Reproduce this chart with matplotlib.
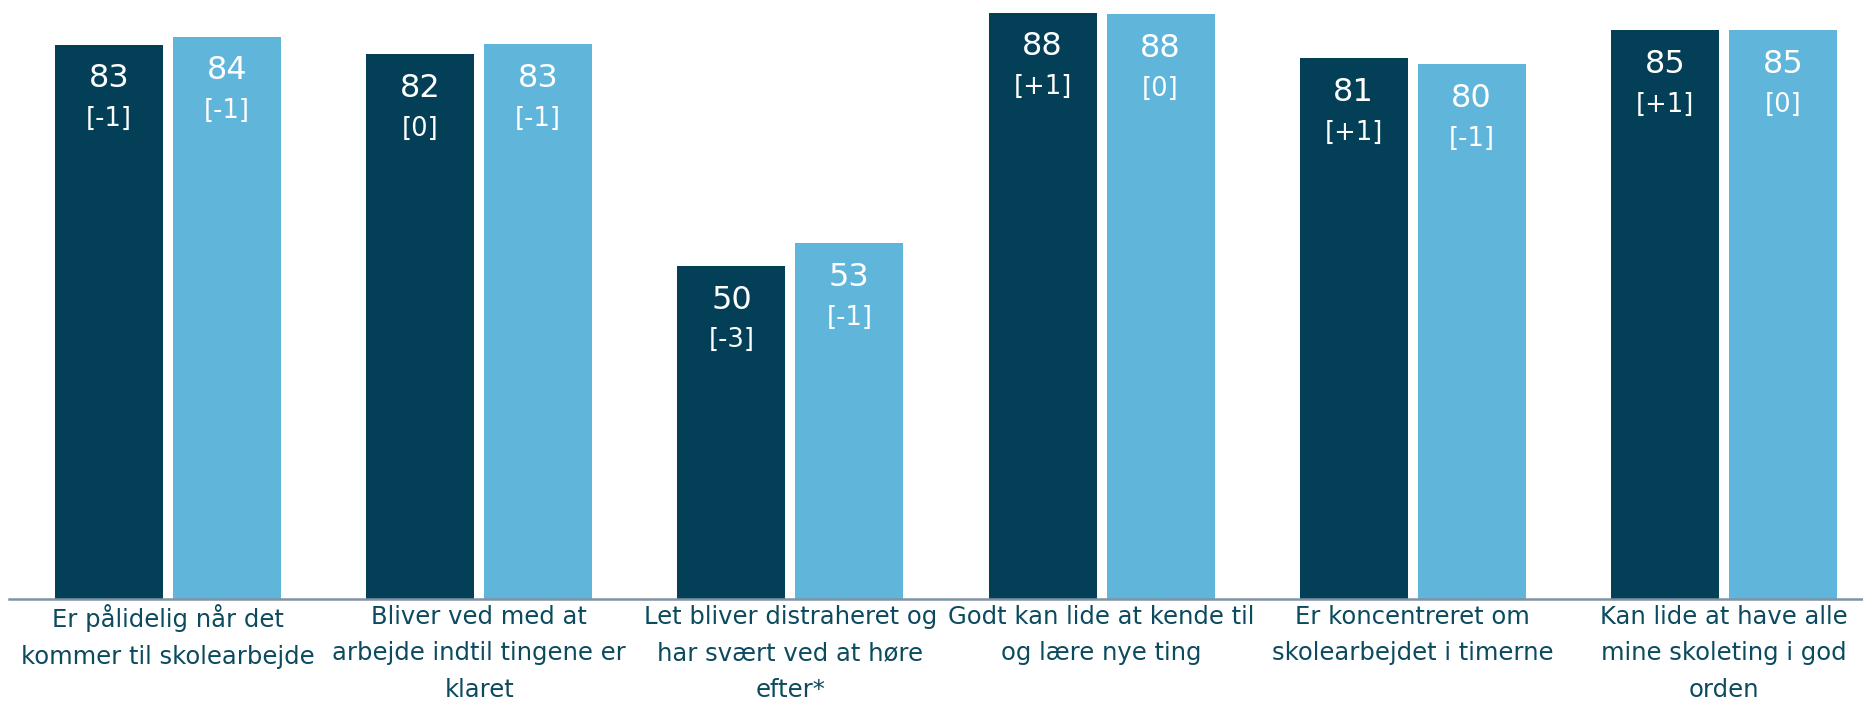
import matplotlib.pyplot as plt
import numpy as np

plt.rcParams['font.family'] = ['DejaVu Sans']

# data
categories = [
    "Er pålidelig når det\nkommer til skolearbejde",
    "Bliver ved med at\narbejde indtil tingene er\nklaret",
    "Let bliver distraheret og\nhar svært ved at høre\nefter*",
    "Godt kan lide at kende til\nog lære nye ting",
    "Er koncentreret om\nskolearbejdet i timerne",
    "Kan lide at have alle\nmine skoleting i god\norden",
]
dark_vals = [83.2, 81.8, 50.0, 88.0, 81.2, 85.4]
light_vals = [84.4, 83.3, 53.4, 87.8, 80.3, 85.4]
dark_labels = ["83", "82", "50", "88", "81", "85"]
light_labels = ["84", "83", "53", "88", "80", "85"]
dark_change = ["[-1]", "[0]", "[-3]", "[+1]", "[+1]", "[+1]"]
light_change = ["[-1]", "[-1]", "[-1]", "[0]", "[-1]", "[0]"]

DARK = "#033f57"
LIGHT = "#5fb5da"
TEXT = "#0b4a5f"

fig = plt.figure(figsize=(18.63, 7.02), dpi=100)
ax = fig.add_axes([9 / 1863, 103 / 702, 1 - 9 / 1863, 599 / 702])

x = np.arange(len(categories))
w = 0.347
off = 0.1895

bars_d = ax.bar(x - off, dark_vals, width=w, color=DARK)
bars_l = ax.bar(x + off, light_vals, width=w, color=LIGHT)

for bars, labs, chg in [(bars_d, dark_labels, dark_change), (bars_l, light_labels, light_change)]:
    for b, lab, c in zip(bars, labs, chg):
        cx = b.get_x() + b.get_width() / 2
        top = b.get_height()
        ax.annotate(lab, (cx, top), xytext=(0, -24.5), textcoords='offset points',
                    ha='center', va='center', color='white', fontsize=23)
        ax.annotate(c, (cx, top), xytext=(0, -53.5), textcoords='offset points',
                    ha='center', va='center', color='white', fontsize=18.5)

ax.set_xlim(-0.511, 5.447)
ax.set_ylim(0, 89.94)
ax.set_yticks([])
ax.set_xticks(x)
ax.set_xticklabels(categories, fontsize=17.5, color=TEXT, linespacing=1.68)
ax.tick_params(axis='x', length=0, pad=4)

for s in ['top', 'right', 'left']:
    ax.spines[s].set_visible(False)
ax.spines['bottom'].set_color('#7f93a3')
ax.spines['bottom'].set_linewidth(1.8)

fig.savefig("out.png", dpi=100)
